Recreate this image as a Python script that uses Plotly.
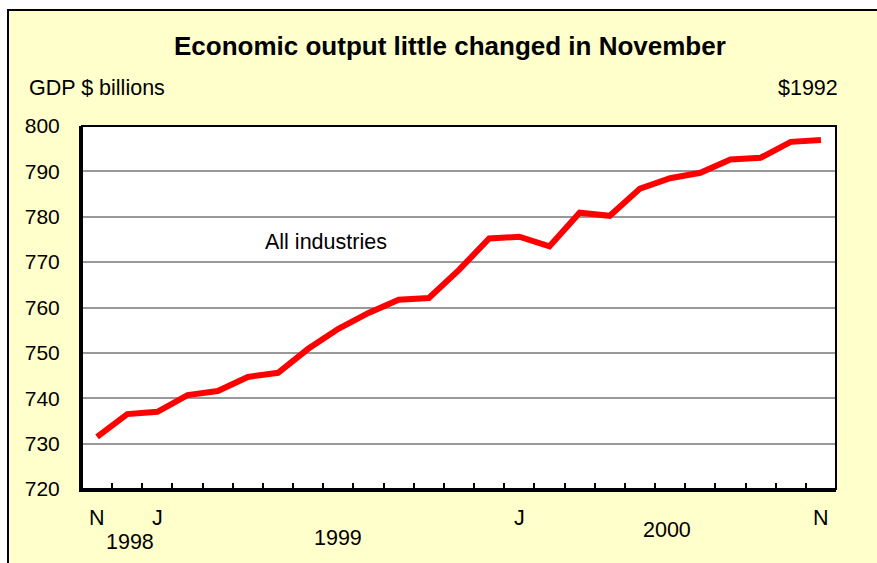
import plotly.graph_objects as go

months = ["Nov 1998", "Dec 1998", "Jan 1999", "Feb 1999", "Mar 1999", "Apr 1999",
          "May 1999", "Jun 1999", "Jul 1999", "Aug 1999", "Sep 1999", "Oct 1999",
          "Nov 1999", "Dec 1999", "Jan 2000", "Feb 2000", "Mar 2000", "Apr 2000",
          "May 2000", "Jun 2000", "Jul 2000", "Aug 2000", "Sep 2000", "Oct 2000",
          "Nov 2000"]
gdp = [731.5, 736.5, 737.0, 740.7, 741.6, 744.7, 745.6, 750.9, 755.3, 758.8,
       761.7, 762.1, 768.3, 775.2, 775.6, 773.5, 780.9, 780.2, 786.2, 788.5,
       789.7, 792.6, 793.0, 796.5, 796.9]
y_ticks = [720, 730, 740, 750, 760, 770, 780, 790, 800]

# bottom labels: (text, category index, screen y)
x_labels = [("N", 0, 518), ("J", 2, 518), ("1998", 1.1, 542), ("1999", 8.0, 538),
            ("J", 14.0, 518), ("2000", 18.9, 530), ("N", 24.0, 518)]

FONT = "Liberation Sans, Arial, sans-serif"
OFF = 0  # body margin removed by post_script
W, H = 877, 563
PL, PR, PT, PB = 82, 836, 126, 489  # plot area in screen pixels
L, T = PL - OFF, PT - OFF
R = W + OFF - PR
B = H + OFF - PB
pw, ph = PR - PL, PB - PT

def px(x):
    return (x - PL) / pw

def py(y):
    return (PB - y) / ph

fig = go.Figure()
fig.add_trace(go.Scatter(
    x=list(range(len(months))), y=gdp, mode="lines",
    line=dict(color="#ff0000", width=6), hoverinfo="skip", showlegend=False,
    text=months,
))

shapes = [
    dict(type="rect", xref="paper", yref="paper", x0=px(8), x1=px(900), y0=py(600), y1=py(10),
         fillcolor="#ffffcc", line=dict(color="black", width=2), layer="below"),
    dict(type="rect", xref="paper", yref="paper", x0=0, x1=1, y0=0, y1=1,
         fillcolor="white", line=dict(width=0), layer="below"),
    dict(type="rect", xref="paper", yref="paper", x0=0, x1=1, y0=0, y1=1,
         fillcolor="rgba(0,0,0,0)", line=dict(color="black", width=2), layer="above"),
]

annotations = [
    dict(text="<b>Economic output little changed in November</b>", xref="paper", yref="paper",
         x=px(450), y=py(46), xanchor="center", yanchor="middle", showarrow=False,
         font=dict(family=FONT, size=26, color="black")),
    dict(text="GDP $ billions", xref="paper", yref="paper", x=px(27), y=py(88),
         xanchor="left", yanchor="middle", showarrow=False,
         font=dict(family=FONT, size=21.5, color="black")),
    dict(text="$1992", xref="paper", yref="paper", x=px(840), y=py(88),
         xanchor="right", yanchor="middle", showarrow=False,
         font=dict(family=FONT, size=21.5, color="black")),
    dict(text="All industries", xref="paper", yref="paper", x=px(326), y=py(242),
         xanchor="center", yanchor="middle", showarrow=False,
         font=dict(family=FONT, size=21.5, color="black")),
]
for text, xi, yy in x_labels:
    annotations.append(dict(text=text, x=xi, y=py(yy), xref="x", yref="paper",
                            xanchor="center", yanchor="middle", showarrow=False,
                            font=dict(family=FONT, size=21.5, color="black")))

fig.update_layout(
    width=W, height=H, margin=dict(l=L, r=R, t=T, b=B),
    paper_bgcolor="white", plot_bgcolor="rgba(0,0,0,0)",
    shapes=shapes, annotations=annotations,
    xaxis=dict(range=[-0.5, len(months) - 0.5], tickvals=[i - 0.5 for i in range(len(months) + 1)],
               ticktext=[""] * (len(months) + 1), ticks="inside", ticklen=6, tickwidth=2,
               tickcolor="black", showgrid=False, zeroline=False, showline=True,
               linecolor="black", linewidth=3, fixedrange=True),
    yaxis=dict(range=[720, 800], tickvals=y_ticks, ticks="", showgrid=True,
               gridcolor="#999999", gridwidth=1.5, zeroline=False, showline=True,
               linecolor="black", linewidth=3, ticklabelstandoff=15,
               tickfont=dict(family=FONT, size=21, color="black"), fixedrange=True),
)

fig.write_html(
    "out.html",
    config={"displayModeBar": False},
    post_script="document.body.style.margin='0';document.body.style.overflow='hidden';",
)
